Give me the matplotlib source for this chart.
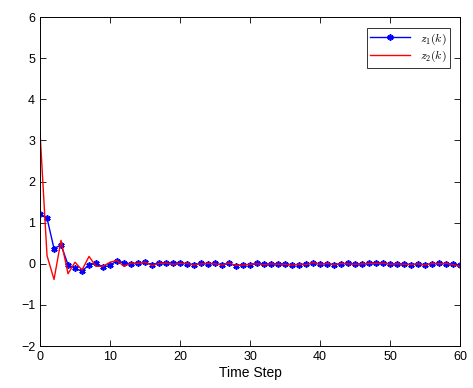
import matplotlib
matplotlib.use("Agg")
import matplotlib.pyplot as plt
import numpy as np

plt.rcParams["font.family"] = ["Liberation Sans", "DejaVu Sans"]
plt.rcParams["mathtext.fontset"] = "cm"

# time steps and state trajectories
steps = np.arange(0, 61)
z1 = [1.2, 1.11, 0.37, 0.46, -0.02, -0.11, -0.18, -0.02, 0.02, -0.08,
      -0.04, 0.08, 0.02, 0.0, 0.01, 0.04, -0.02, 0.02, 0.02, 0.01,
      0.02, 0.0, -0.02, 0.01, 0.0, 0.01, -0.02, 0.01, -0.05, -0.02,
      -0.02, 0.01, -0.01, -0.01, 0.0, -0.01, -0.02, -0.02, -0.01, 0.02,
      0.0, 0.0, -0.02, 0.0, 0.01, 0.0, -0.01, 0.01, 0.02, 0.02,
      0.0, -0.01, 0.0, -0.02, -0.01, -0.02, 0.0, 0.01, 0.0, -0.01, -0.04]
z2 = [3.2, 0.2, -0.38, 0.57, -0.24, 0.04, -0.15, 0.18, -0.06, -0.06,
      0.04, 0.08, -0.06, 0.02, 0.01, 0.04, -0.04, 0.01, 0.02, -0.01,
      0.01, 0.01, -0.03, 0.0, 0.01, 0.0, -0.03, 0.02, -0.04, -0.03,
      -0.01, 0.0, -0.02, 0.0, -0.01, -0.01, -0.03, -0.01, -0.02, 0.03,
      -0.01, 0.01, -0.02, 0.01, 0.0, -0.01, 0.0, 0.01, 0.01, 0.02,
      -0.01, 0.0, -0.01, -0.02, 0.0, -0.03, 0.01, 0.0, 0.01, -0.02, -0.06]

fig = plt.figure(figsize=(4.73, 3.88), dpi=100)
ax = fig.add_axes([0.0846, 0.108, 0.888, 0.848])

ax.plot(steps, z1, color="blue", lw=1.0, marker=(6, 2, 0), ms=4.5, mew=1.2,
        label=r"$z_1(k)$")
ax.plot(steps, z2, color="red", lw=1.0, label=r"$z_2(k)$")

ax.set_xlim(0, 60)
ax.set_ylim(-2, 6)
ax.set_xticks(range(0, 61, 10))
ax.set_yticks(range(-2, 7))
ax.tick_params(direction="in", top=True, right=True, labelsize=9, length=4, width=0.6)
for s in ax.spines.values():
    s.set_linewidth(0.7)
ax.set_xlabel("Time Step", fontsize=10, labelpad=2)

leg = ax.legend(loc="upper right", fontsize=8.5, fancybox=False, edgecolor="black",
                handlelength=3.4, borderpad=0.3, labelspacing=0.2,
                bbox_to_anchor=(0.99, 0.985))
leg.get_frame().set_linewidth(0.7)

fig.savefig("out.png", dpi=100)
